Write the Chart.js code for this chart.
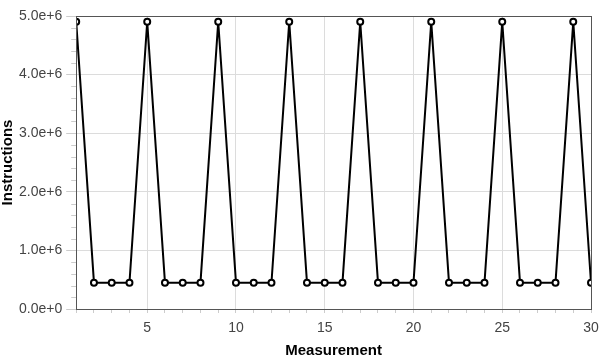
<!DOCTYPE html>
<html>
<head>
<meta charset="utf-8">
<script src="https://cdn.jsdelivr.net/npm/chart.js@4"></script>
<style>
  html, body { margin: 0; padding: 0; background: #fff; }
  #wrap { width: 599px; height: 358px; }
</style>
</head>
<body>
<div id="wrap"><canvas id="chart"></canvas></div>
<script>
const measurements = [1, 2, 3, 4, 5, 6, 7, 8, 9, 10, 11, 12, 13, 14, 15, 16, 17, 18, 19, 20, 21, 22, 23, 24, 25, 26, 27, 28, 29, 30];
const instructions = [
  4.9e6, 0.45e6, 0.45e6, 0.45e6,
  4.9e6, 0.45e6, 0.45e6, 0.45e6,
  4.9e6, 0.45e6, 0.45e6, 0.45e6,
  4.9e6, 0.45e6, 0.45e6, 0.45e6,
  4.9e6, 0.45e6, 0.45e6, 0.45e6,
  4.9e6, 0.45e6, 0.45e6, 0.45e6,
  4.9e6, 0.45e6, 0.45e6, 0.45e6,
  4.9e6, 0.45e6
];
const xMajorEvery = 5;
const yMajorEvery = 1e6;
const isMajor = (v, every) => Math.abs(v / every - Math.round(v / every)) < 1e-9;

// box round the plot area, and short minor ticks on the y axis
const frame = {
  id: 'frame',
  afterDatasetsDraw(chart) {
    const { ctx, chartArea: a } = chart;
    const y = chart.scales.y;
    ctx.save();
    ctx.strokeStyle = '#ccc';
    ctx.lineWidth = 1;
    y.ticks.forEach((t) => {
      if (isMajor(t.value, yMajorEvery)) return;
      const py = Math.round(y.getPixelForValue(t.value)) + 0.5;
      ctx.beginPath();
      ctx.moveTo(a.left - 5, py);
      ctx.lineTo(a.left, py);
      ctx.stroke();
    });
    ctx.strokeStyle = '#555';
    ctx.strokeRect(Math.round(a.left) + 0.5, Math.round(a.top) + 0.5, Math.round(a.right - a.left), Math.round(a.bottom - a.top));
    ctx.restore();
  }
};

const tickFont = { family: 'Liberation Sans, Arial, sans-serif', size: 14, lineHeight: 1.0 };
const titleFont = { family: 'Liberation Sans, Arial, sans-serif', size: 15, weight: 'bold', lineHeight: 1.0 };

new Chart(document.getElementById('chart'), {
  type: 'line',
  data: {
    datasets: [{
      data: measurements.map((m, i) => ({ x: m, y: instructions[i] })),
      borderColor: '#000',
      borderWidth: 2,
      pointRadius: 3,
      pointBorderWidth: 2,
      pointBackgroundColor: '#fff',
      pointBorderColor: '#000',
      tension: 0
    }]
  },
  options: {
    responsive: true,
    maintainAspectRatio: false,
    animation: false,
    layout: { padding: { top: 16, right: 1, left: 0, bottom: 0 } },
    plugins: { legend: { display: false }, tooltip: { enabled: false } },
    scales: {
      x: {
        type: 'linear',
        min: 1,
        max: 30,
        afterBuildTicks: (scale) => { scale.ticks = measurements.map((v) => ({ value: v })); },
        afterFit: (scale) => { scale.paddingRight = 8; },
        grid: {
          color: (c) => (c.tick && isMajor(c.tick.value, xMajorEvery)) ? '#dcdcdc' : 'rgba(0,0,0,0)',
          tickColor: '#ccc',
          tickLength: 4
        },
        border: { color: '#555' },
        ticks: {
          autoSkip: false,
          maxRotation: 0,
          color: '#444',
          font: tickFont,
          padding: 8,
          callback: (v) => isMajor(v, xMajorEvery) ? String(Math.round(v)) : ''
        },
        title: { display: true, text: 'Measurement', color: '#000', font: titleFont, padding: { top: 0, bottom: 0 } }
      },
      y: {
        min: 0,
        max: 5e6,
        grid: {
          color: (c) => (c.tick && isMajor(c.tick.value, yMajorEvery)) ? '#dcdcdc' : 'rgba(0,0,0,0)',
          tickColor: (c) => (c.tick && isMajor(c.tick.value, yMajorEvery)) ? '#ccc' : 'rgba(0,0,0,0)',
          tickLength: 10
        },
        border: { color: '#555' },
        ticks: {
          stepSize: 2e5,
          autoSkip: false,
          color: '#444',
          font: tickFont,
          padding: 4,
          callback: (v) => isMajor(v, yMajorEvery) ? v.toExponential(1) : ''
        },
        title: { display: true, text: 'Instructions', color: '#000', font: titleFont, padding: { top: 0, bottom: 0 } }
      }
    }
  },
  plugins: [frame]
});
</script>
</body>
</html>
